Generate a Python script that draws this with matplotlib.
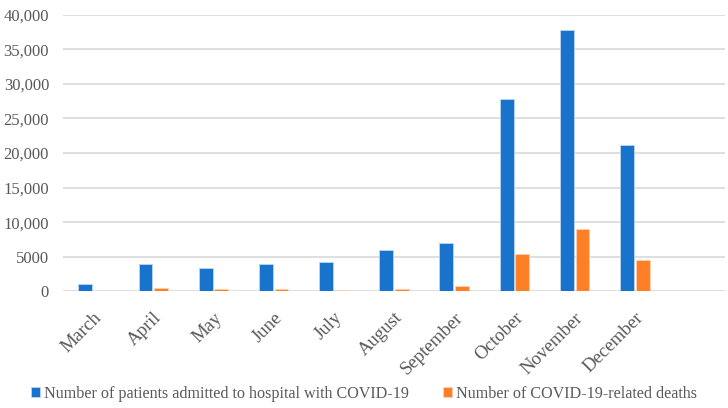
import matplotlib
matplotlib.use("Agg")
import matplotlib.pyplot as plt
import numpy as np

months = ["March", "April", "May", "June", "July", "August", "September",
          "October", "November", "December", ""]
admitted = [1100, 4000, 3400, 3950, 4250, 6000, 6950, 27750, 37800, 21150, 0]
deaths = [0, 500, 300, 300, 250, 300, 720, 5400, 9000, 4500, 0]
ytick_vals = [0, 5000, 10000, 15000, 20000, 25000, 30000, 35000, 40000]
ytick_labels = ["0", "5000", "10,000", "15,000", "20,000", "25,000", "30,000", "35,000", "40,000"]

plt.rcParams['font.family'] = ['Liberation Serif', 'DejaVu Serif']
text_color = "#595959"
blue = "#1873CC"
orange = "#FF7F27"

fig = plt.figure(figsize=(7.28, 4.08), dpi=100)
ax = fig.add_axes([0.0865, 0.286, 0.9095, 0.678])

x = np.arange(len(months))
w = 0.23
gap = 0.03
ax.bar(x - w/2 - gap/2, admitted, width=w, color=blue, edgecolor="#BBD6F0", linewidth=0.6,
       label="Number of patients admitted to hospital with COVID-19", zorder=3)
ax.bar(x + w/2 + gap/2, deaths, width=w, color=orange, edgecolor="#FFD2B3", linewidth=0.6,
       label="Number of COVID-19-related deaths", zorder=3)

ax.set_xlim(-0.5, len(months) - 0.5)
ax.set_ylim(0, 40000)
ax.set_yticks(ytick_vals)
ax.set_yticklabels(ytick_labels, fontsize=12, color=text_color)
ax.set_xticks(x)
ax.set_xticklabels(months, rotation=45, ha="right", rotation_mode="anchor",
                   fontsize=13.5, color=text_color)
ax.tick_params(axis="both", length=0)
ax.tick_params(axis="y", pad=10)
ax.tick_params(axis="x", pad=13)
ax.grid(axis="y", color="#D9D9D9", linewidth=1.2, zorder=0)
for s in ax.spines.values():
    s.set_visible(False)

leg = fig.legend(loc="center", bbox_to_anchor=(0.5, 0.035), ncol=2, frameon=False,
                 fontsize=11.6, handlelength=0.55, handleheight=0.55, handletextpad=0.25,
                 columnspacing=2.1, borderaxespad=0, borderpad=0)
for t in leg.get_texts():
    t.set_color(text_color)

fig.savefig("out.png", dpi=100)
